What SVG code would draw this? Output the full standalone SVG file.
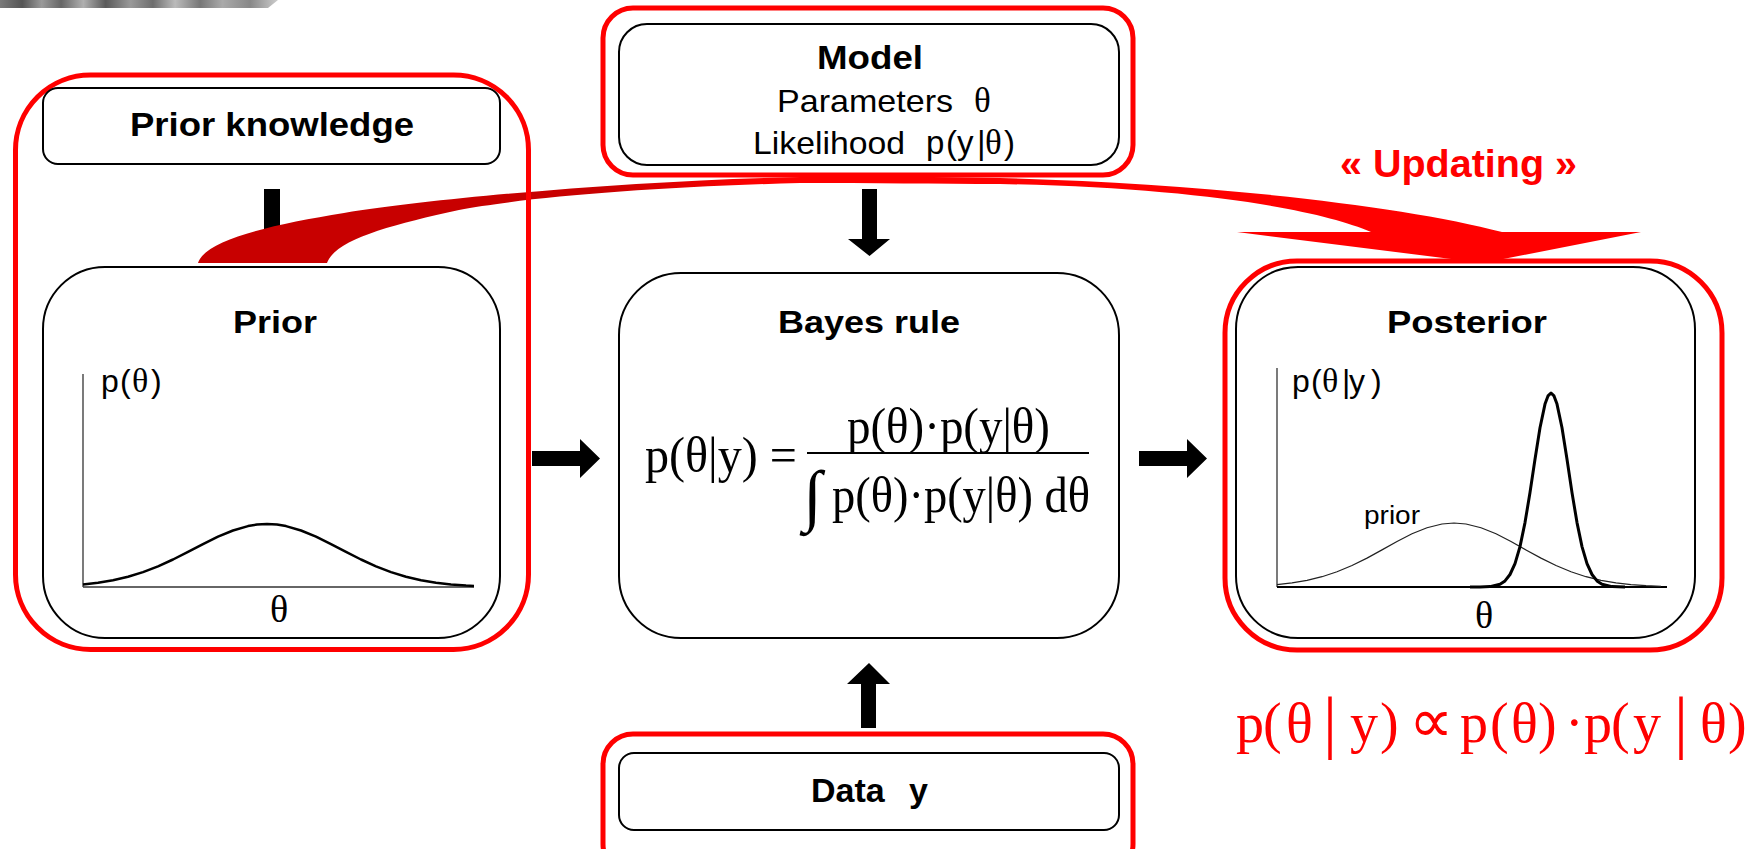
<svg xmlns="http://www.w3.org/2000/svg" width="1764" height="849" viewBox="0 0 1764 849">
<style>
.box{fill:none;stroke:#000;stroke-width:2}
.red{fill:none;stroke:#ff0000;stroke-width:5}
.bold{font-family:"Liberation Sans",Arial,sans-serif;font-weight:bold;fill:#000}
.sans{font-family:"Liberation Sans",Arial,sans-serif;fill:#000}
.serif{font-family:"Liberation Serif","Times New Roman",serif;fill:#000}
.arrow{fill:#000}
.axis{stroke:#333;stroke-width:1.3;fill:none}
</style>
<defs>
<linearGradient id="swooshGrad" gradientUnits="userSpaceOnUse" x1="600" y1="0" x2="760" y2="0">
<stop offset="0" stop-color="#c80000"/>
<stop offset="1" stop-color="#ff0000"/>
</linearGradient>
<linearGradient id="photo" x1="0" y1="0" x2="1" y2="0">
<stop offset="0" stop-color="#7a7a7a"/>
<stop offset="0.08" stop-color="#555"/>
<stop offset="0.15" stop-color="#9a9a9a"/>
<stop offset="0.22" stop-color="#666"/>
<stop offset="0.3" stop-color="#b0b0b0"/>
<stop offset="0.38" stop-color="#5a5a5a"/>
<stop offset="0.47" stop-color="#999"/>
<stop offset="0.55" stop-color="#6e6e6e"/>
<stop offset="0.63" stop-color="#bbb"/>
<stop offset="0.72" stop-color="#777"/>
<stop offset="0.8" stop-color="#aaa"/>
<stop offset="0.9" stop-color="#888"/>
<stop offset="1" stop-color="#ccc"/>
</linearGradient>
</defs>
<rect x="0" y="0" width="1764" height="849" fill="#fff"/>
<polygon points="0,0 278,0 268,8 0,8" fill="url(#photo)"/>

<g id="connectors">
<polygon class="arrow" points="264,189 280,189 280,239 293,239 272,256 251,239 264,239"/>
<polygon class="arrow" points="862,189 877,189 877,239 890,239 869.5,256 848,239 862,239"/>
<polygon class="arrow" points="861,728 876,728 876,684 890,684 869,663 847,684 861,684"/>
<polygon class="arrow" points="532,451 580,451 580,439 600,458.5 580,478 580,466 532,466"/>
<polygon class="arrow" points="1139,451 1187,451 1187,439 1207,458.5 1187,478 1187,466 1139,466"/>
<path id="updating-arrow" fill="url(#swooshGrad)" d="M198,263 C205,240 270,225 344,213 C450,196 650,180 800,177 C870,176 940,177 1000,178 C1200,183 1400,205 1502,232 L1641,232 L1483,263 L1237,232 L1371,232 C1320,210 1200,188 1000,184 C940,184 870,183 800,183 C650,187 520,198 459,210 C390,225 335,240 327,263 Z"/>
</g>

<g id="prior-knowledge">
<rect class="red" x="15.5" y="75" width="513" height="574.5" rx="75" ry="75"/>
<rect class="box" x="43" y="88" width="457" height="76" rx="15" ry="15"/>
<text class="bold" x="130" y="136" font-size="33" textLength="284" lengthAdjust="spacingAndGlyphs">Prior knowledge</text>
</g>

<g id="prior">
<rect class="box" x="43" y="267" width="457" height="371" rx="62" ry="62"/>
<text class="bold" x="233" y="333" font-size="31" textLength="84" lengthAdjust="spacingAndGlyphs">Prior</text>
<line class="axis" x1="83" y1="374" x2="83" y2="587"/>
<line class="axis" x1="83" y1="587" x2="474" y2="587"/>
<polyline fill="none" stroke="#000" stroke-width="2.5" stroke-linejoin="round" points="83,584.4 98,582.7 113,580.2 128,576.7 143,572.1 158,566.3 173,559.5 188,551.9 203,544.1 218,536.7 233,530.5 248,526.1 257,524.5 267,524 277,524.5 286,526.1 301,530.5 316,536.7 331,544.1 346,551.9 361,559.5 376,566.3 391,572.1 406,576.7 421,580.2 436,582.7 451,584.4 466,585.5 474,585.9"/>
<text class="sans" font-size="32" y="392"><tspan x="101">p</tspan><tspan x="120">(</tspan><tspan class="serif" x="132" font-size="34">θ</tspan><tspan x="151">)</tspan></text>
<text class="serif" x="279" y="622" font-size="38" text-anchor="middle">θ</text>
</g>

<g id="model">
<rect class="red" x="603" y="8" width="530" height="167" rx="30" ry="30"/>
<rect class="box" x="619" y="24" width="500" height="141" rx="28" ry="28"/>
<text class="bold" x="817" y="69" font-size="33" textLength="106" lengthAdjust="spacingAndGlyphs">Model</text>
<text class="sans" x="777" y="112" font-size="32" textLength="176" lengthAdjust="spacingAndGlyphs">Parameters</text>
<text class="serif" x="974" y="112" font-size="35">θ</text>
<text class="sans" x="753" y="154" font-size="32" textLength="152" lengthAdjust="spacingAndGlyphs">Likelihood</text>
<text class="sans" font-size="33" y="154"><tspan x="926">p</tspan><tspan x="946">(</tspan><tspan x="957">y</tspan><tspan x="977">|</tspan><tspan class="serif" x="985" font-size="35">θ</tspan><tspan x="1004">)</tspan></text>
</g>

<g id="bayes-rule">
<rect class="box" x="619" y="273" width="500" height="365" rx="62" ry="62"/>
<text class="bold" x="778" y="333" font-size="31" textLength="182" lengthAdjust="spacingAndGlyphs">Bayes rule</text>
<text class="serif" x="645" y="472" font-size="50" textLength="152" lengthAdjust="spacingAndGlyphs">p(θ|y) =</text>
<text class="serif" x="847" y="443" font-size="50" textLength="203" lengthAdjust="spacingAndGlyphs">p(θ)·p(y|θ)</text>
<line x1="807" y1="453" x2="1089" y2="453" stroke="#000" stroke-width="2"/>
<text class="serif" x="803" y="518" font-size="68">∫</text>
<text class="serif" x="832" y="512" font-size="50" textLength="258" lengthAdjust="spacingAndGlyphs">p(θ)·p(y|θ) dθ</text>
</g>

<g id="data">
<rect class="red" x="603" y="734" width="530" height="140" rx="30" ry="30"/>
<rect class="box" x="619" y="753" width="500" height="77" rx="15" ry="15"/>
<text class="bold" x="811" y="802" font-size="34">Data</text>
<text class="bold" x="909" y="802" font-size="34">y</text>
</g>

<g id="posterior">
<rect class="red" x="1225" y="261" width="497" height="389" rx="72" ry="72"/>
<rect class="box" x="1236" y="267" width="459" height="371" rx="62" ry="62"/>
<text class="bold" x="1387" y="333" font-size="31" textLength="160" lengthAdjust="spacingAndGlyphs">Posterior</text>
<line class="axis" x1="1277" y1="368" x2="1277" y2="587"/>
<line x1="1277" y1="587" x2="1667" y2="587" stroke="#000" stroke-width="2"/>
<polyline fill="none" stroke="#222" stroke-width="1.2" points="1277,584.6 1292,582.9 1307,580.4 1322,576.7 1337,571.8 1352,565.5 1367,558.1 1382,549.9 1397,541.5 1412,533.8 1427,527.7 1442,524 1454,523 1466,524 1481,527.7 1496,533.8 1511,541.5 1526,549.9 1541,558.1 1556,565.5 1571,571.8 1586,576.7 1601,580.4 1616,582.9 1631,584.6 1646,585.7 1661,586.3"/>
<polyline fill="none" stroke="#000" stroke-width="3" stroke-linejoin="round" points="1470,587 1480,586.9 1490,586.6 1500,584.2 1505,580.9 1510,574.5 1515,563.6 1520,546.6 1525,522.6 1530,492.6 1535,459.3 1540,427.8 1545,404.1 1548,395.9 1551,393 1554,395.9 1557,404.1 1562,427.8 1567,459.3 1572,492.6 1577,522.6 1582,546.6 1587,563.6 1592,574.5 1597,580.9 1602,584.2 1612,586.6 1625,587"/>
<text class="sans" font-size="32" y="392"><tspan x="1292">p</tspan><tspan x="1311">(</tspan><tspan class="serif" x="1322" font-size="34">θ</tspan><tspan x="1342">|</tspan><tspan x="1349">y</tspan><tspan x="1371">)</tspan></text>
<text class="sans" x="1364" y="524" font-size="25" textLength="56" lengthAdjust="spacingAndGlyphs">prior</text>
<text class="serif" x="1484" y="628" font-size="38" text-anchor="middle">θ</text>
</g>

<g id="updating-label">
<text x="1340" y="177" font-family="Liberation Sans, Arial, sans-serif" font-weight="bold" font-size="39" fill="#ff0000" textLength="237" lengthAdjust="spacingAndGlyphs">« Updating »</text>
</g>

<g id="proportional-formula">
<text font-family="Liberation Serif, Times New Roman, serif" font-size="56" fill="#ff0000" y="742"><tspan x="1236">p</tspan><tspan x="1263">(</tspan><tspan x="1286">θ</tspan><tspan x="1323" y="745" font-size="70">|</tspan><tspan x="1350" y="742">y</tspan><tspan x="1380">)</tspan><tspan x="1409" font-size="62">∝</tspan><tspan x="1460">p</tspan><tspan x="1490">(</tspan><tspan x="1511">θ</tspan><tspan x="1538">)</tspan><tspan x="1565">·</tspan><tspan x="1584">p</tspan><tspan x="1611">(</tspan><tspan x="1633">y</tspan><tspan x="1674" y="745" font-size="70">|</tspan><tspan x="1700" y="742">θ</tspan><tspan x="1728">)</tspan></text>
</g>
</svg>
